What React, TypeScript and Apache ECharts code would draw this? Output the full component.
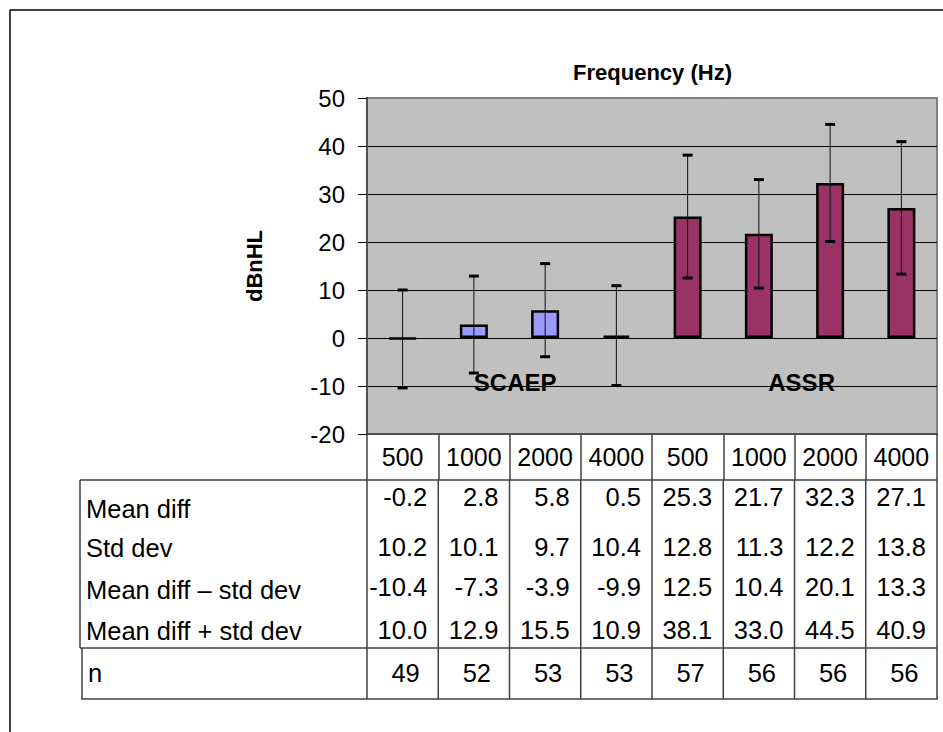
import React, { useEffect, useRef } from "react";
import * as echarts from "echarts";

const frequencies = ["500", "1000", "2000", "4000", "500", "1000", "2000", "4000"];
const methods = ["SCAEP", "SCAEP", "SCAEP", "SCAEP", "ASSR", "ASSR", "ASSR", "ASSR"];
const meanDiff = [-0.2, 2.8, 5.8, 0.5, 25.3, 21.7, 32.3, 27.1];
const stdDev = [10.2, 10.1, 9.7, 10.4, 12.8, 11.3, 12.2, 13.8];
const meanMinusSd = [-10.4, -7.3, -3.9, -9.9, 12.5, 10.4, 20.1, 13.3];
const meanPlusSd = [10.0, 12.9, 15.5, 10.9, 38.1, 33.0, 44.5, 40.9];
const nCounts = [49, 52, 53, 53, 57, 56, 56, 56];
const rowLabels = ["Mean diff", "Std dev", "Mean diff \u2013 std dev", "Mean diff + std dev"];
const rowValues = [meanDiff, stdDev, meanMinusSd, meanPlusSd];
const groupNames = ["SCAEP", "ASSR"];
const yMin = -20;
const yMax = 50;
const yInterval = 10;

const FONT = '"Liberation Sans", Arial, sans-serif';
const methodColor: Record<string, string> = { SCAEP: "#9999FF", ASSR: "#993366" };

export default function App() {
  const ref = useRef<HTMLDivElement>(null);

  useEffect(() => {
    if (!ref.current) return;
    const chart = echarts.init(ref.current, undefined, { renderer: "svg" });
    const gridLeft = 367;
    const gridTop = 98;
    const gridW = 570;
    const gridH = 336;

    chart.setOption({
      animation: false,
      backgroundColor: "#ffffff",
      grid: {
        left: gridLeft,
        top: gridTop,
        width: gridW,
        height: gridH,
        show: true,
        backgroundColor: "#C0C0C0",
        borderColor: "#808080",
        borderWidth: 2,
      },
      xAxis: {
        type: "category",
        data: frequencies,
        boundaryGap: true,
        axisLine: { onZero: false, lineStyle: { color: "#404040", width: 1.5 } },
        axisTick: { show: true, length: 46, inside: false, lineStyle: { color: "#404040", width: 1.5 } },
        axisLabel: {
          margin: 23,
          fontFamily: FONT,
          fontSize: 25,
          color: "#000",
          verticalAlign: "middle",
          interval: 0,
        },
        splitLine: { show: false },
      },
      yAxis: {
        type: "value",
        min: yMin,
        max: yMax,
        interval: yInterval,
        name: "dBnHL",
        nameLocation: "middle",
        nameRotate: 90,
        nameGap: 102,
        nameTextStyle: { fontFamily: FONT, fontSize: 22, fontWeight: "bold", color: "#000" },
        axisLine: { show: true, lineStyle: { color: "#505050", width: 2 } },
        axisTick: { show: true, length: 9, lineStyle: { color: "#000", width: 1 } },
        axisLabel: { margin: 22, fontFamily: FONT, fontSize: 24, color: "#000" },
        splitLine: { show: true, showMinLine: false, showMaxLine: false, lineStyle: { color: "#000", width: 1 } },
      },
      series: [
        {
          type: "bar",
          barWidth: 28,
          data: meanDiff.map((v, i) => ({
            value: v,
            itemStyle: { color: methodColor[methods[i]], borderColor: "#000", borderWidth: 2.5 },
          })),
          z: 2,
        },
        {
          type: "custom",
          z: 3,
          data: meanDiff.map((_, i) => [i, meanMinusSd[i], meanPlusSd[i]]),
          renderItem: (params: any, api: any) => {
            const lo = api.coord([api.value(0), api.value(1)]);
            const hi = api.coord([api.value(0), api.value(2)]);
            const x = lo[0];
            const hw = 5;
            return {
              type: "group",
              children: [
                { type: "line", shape: { x1: x, y1: lo[1], x2: x, y2: hi[1] }, style: { stroke: "#111", lineWidth: 1 } },
                { type: "line", shape: { x1: x - hw, y1: hi[1], x2: x + hw, y2: hi[1] }, style: { stroke: "#000", lineWidth: 3 } },
                { type: "line", shape: { x1: x - hw, y1: lo[1], x2: x + hw, y2: lo[1] }, style: { stroke: "#000", lineWidth: 3 } },
              ],
            };
          },
        },
      ],
    });

    // Build table and annotations using the axis scale
    const c0 = chart.convertToPixel({ xAxisIndex: 0 }, 0) as number;
    const c1 = chart.convertToPixel({ xAxisIndex: 0 }, 1) as number;
    const band = c1 - c0;
    const centers = frequencies.map((_, i) => chart.convertToPixel({ xAxisIndex: 0 }, i) as number);
    const leftEdge = centers[0] - band / 2;
    const rightEdge = centers[centers.length - 1] + band / 2;

    const lineColor = "#404040";
    const g: any[] = [];
    const addLine = (x1: number, y1: number, x2: number, y2: number, w = 1.5, c = lineColor) =>
      g.push({ type: "line", shape: { x1, y1, x2, y2 }, style: { stroke: c, lineWidth: w }, silent: true });
    const addText = (text: string, x: number, y: number, align: string, size = 25, weight = "normal") =>
      g.push({
        type: "text",
        x,
        y,
        silent: true,
        style: {
          text,
          font: `${weight} ${size}px ${FONT}`,
          fill: "#000",
          align,
          textAlign: align,
          verticalAlign: "middle",
          textVerticalAlign: "middle",
        },
      });

    // outer frame
    addLine(10, 10, 943, 10, 1.5, "#000");
    addLine(10, 10, 10, 732, 1.5, "#000");

    // title
    addText("Frequency (Hz)", (leftEdge + rightEdge) / 2 + 0.5, 72, "center", 22, "bold");

    // data block
    const tblLeft = 80;
    const dataTop = 480;
    const dataBottom = 648;
    const nBottom = 699;
    addLine(tblLeft, dataTop, rightEdge, dataTop);
    addLine(tblLeft, dataBottom, rightEdge, dataBottom);
    addLine(tblLeft + 1, nBottom, rightEdge + 1, nBottom);
    addLine(tblLeft, dataTop, tblLeft, dataBottom);
    addLine(tblLeft + 2, dataBottom, tblLeft + 2, nBottom);
    for (let i = 0; i <= frequencies.length; i++) {
      const x = leftEdge + i * band;
      addLine(x, dataTop, x, nBottom);
    }

    const labelYs = [509, 548, 590, 631];
    const numYs = [497, 547, 587, 630];
    rowLabels.forEach((lab, r) => {
      addText(lab, 86, labelYs[r], "left", 25.5);
      rowValues[r].forEach((v, i) => {
        addText(v.toFixed(1), centers[i] + band / 2 - 11, numYs[r], "right", 25.5);
      });
    });
    addText("n", 88, 673, "left", 25.5);
    nCounts.forEach((v, i) => addText(String(v), centers[i] + 3, 673, "center", 25.5));

    // group labels
    const yLab = chart.convertToPixel({ yAxisIndex: 0 }, -9.2) as number;
    const groupPos = [1.58, 5.6];
    groupNames.forEach((name, k) => {
      addText(name, centers[0] + groupPos[k] * band, yLab, "center", 24, "bold");
    });

    chart.setOption({ graphic: { elements: g } });

    return () => chart.dispose();
  }, []);

  return (
    <div
      ref={ref}
      style={{ position: "absolute", left: 0, top: 0, width: 943, height: 732 }}
    />
  );
}
